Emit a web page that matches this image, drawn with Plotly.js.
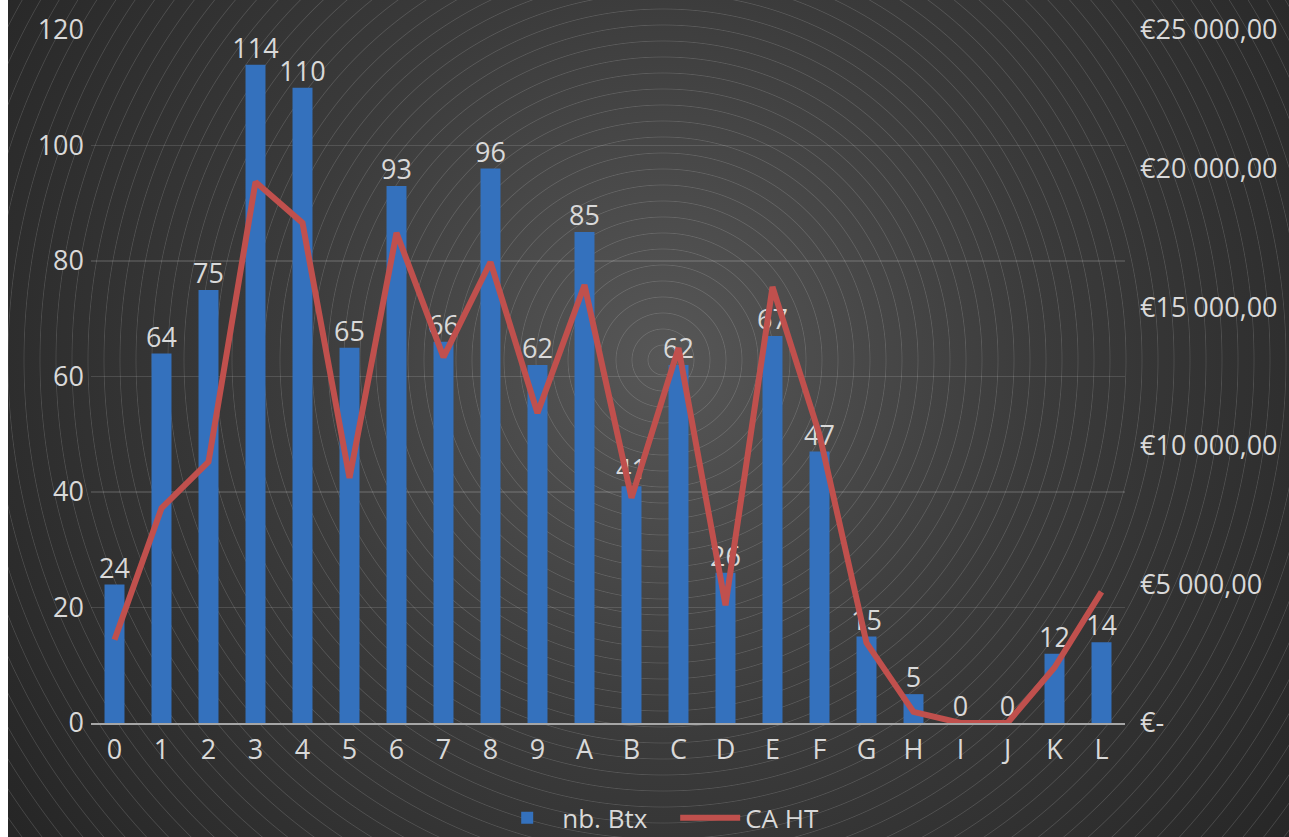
<!DOCTYPE html>
<html>
<head>
<meta charset="utf-8">
<script src="https://cdn.plot.ly/plotly-3.0.1.min.js"></script>
<style>
  html, body { margin: 0; padding: 0; background: #ffffff; width: 1289px; height: 837px; overflow: hidden; }
  #chart {
    position: absolute; left: 8px; top: 0; width: 1281px; height: 837px;
    background:
      repeating-radial-gradient(circle at 655px 360px, rgba(255,255,255,0) 0px, rgba(255,255,255,0) 14.2px, rgba(255,255,255,0.14) 15px, rgba(255,255,255,0) 15.8px, rgba(255,255,255,0) 16px),
      radial-gradient(circle at 655px 360px, #575757 0px, #3b3b3b 380px, #262626 800px);
  }
</style>
</head>
<body>
<div id="chart"></div>
<script>
const categories = ["0","1","2","3","4","5","6","7","8","9","A","B","C","D","E","F","G","H","I","J","K","L"];
const nbBtx = [24,64,75,114,110,65,93,66,96,62,85,41,62,26,67,47,15,5,0,0,12,14];
const caHT = [3000,7750,9420,19520,18040,8840,17680,13200,16630,11180,15800,8120,13530,4250,15730,10400,2890,400,0,0,2000,4730];
const leftTicks = [0,20,40,60,80,100,120];
const rightTickVals = [0,5000,10000,15000,20000,25000];
const rightTickText = ["€-","€5 000,00","€10 000,00","€15 000,00","€20 000,00","€25 000,00"];

const txtColor = "#d9d9d9";
const fontFam = "Open Sans, Noto Sans, sans-serif";
const fs = 27;

const traces = [
  {
    type: "bar", name: "nb. Btx", x: categories, y: nbBtx,
    marker: { color: "#3471bd" },
    hoverinfo: "skip"
  },
  {
    type: "scatter", mode: "lines", name: "CA HT", x: categories, y: caHT, yaxis: "y2",
    line: { color: "#c0504d", width: 6, shape: "linear" },
    hoverinfo: "skip"
  },
  {
    type: "scatter", mode: "text", x: categories, y: nbBtx,
    text: nbBtx.map(String), textposition: "top center",
    textfont: { family: fontFam, size: fs, color: txtColor },
    showlegend: false, hoverinfo: "skip", cliponaxis: false
  }
];

const layout = {
  width: 1281, height: 837,
  paper_bgcolor: "rgba(0,0,0,0)", plot_bgcolor: "rgba(0,0,0,0)",
  margin: { l: 82.5, r: 163.5, t: 30, b: 114, autoexpand: false },
  font: { family: fontFam, size: fs, color: txtColor },
  bargap: 0.575,
  showlegend: true,
  legend: {
    orientation: "h", x: 0.388, xanchor: "left", y: -0.137, yanchor: "middle",
    font: { family: fontFam, size: 26, color: txtColor },
    bgcolor: "rgba(0,0,0,0)", itemwidth: 60, traceorder: "normal", borderwidth: 0,
    entrywidth: 108, entrywidthmode: "pixels"
  },
  xaxis: {
    type: "category", categoryorder: "array", categoryarray: categories,
    range: [-0.5, 21.5], autorange: false, automargin: false,
    showgrid: false, zeroline: false, showline: true, linecolor: "#a6a6a6", linewidth: 2,
    ticks: "", tickfont: { family: fontFam, size: fs, color: txtColor },
    ticklabelstandoff: 2, fixedrange: true
  },
  yaxis: {
    range: [0, 120], tickvals: leftTicks, ticktext: leftTicks.map(String), automargin: false,
    showgrid: true, gridcolor: "rgba(255,255,255,0.13)", gridwidth: 1.5,
    zeroline: false, showline: false, ticks: "",
    tickfont: { family: fontFam, size: fs, color: txtColor },
    ticklabelstandoff: 6, fixedrange: true
  },
  yaxis2: {
    range: [0, 25000], overlaying: "y", side: "right", anchor: "x", automargin: false,
    tickvals: rightTickVals, ticktext: rightTickText,
    showgrid: false, zeroline: false, showline: false, ticks: "",
    tickfont: { family: fontFam, size: fs, color: txtColor },
    ticklabelstandoff: 14, fixedrange: true
  }
};

Plotly.newPlot("chart", traces, layout, { displayModeBar: false, staticPlot: true });
</script>
</body>
</html>
